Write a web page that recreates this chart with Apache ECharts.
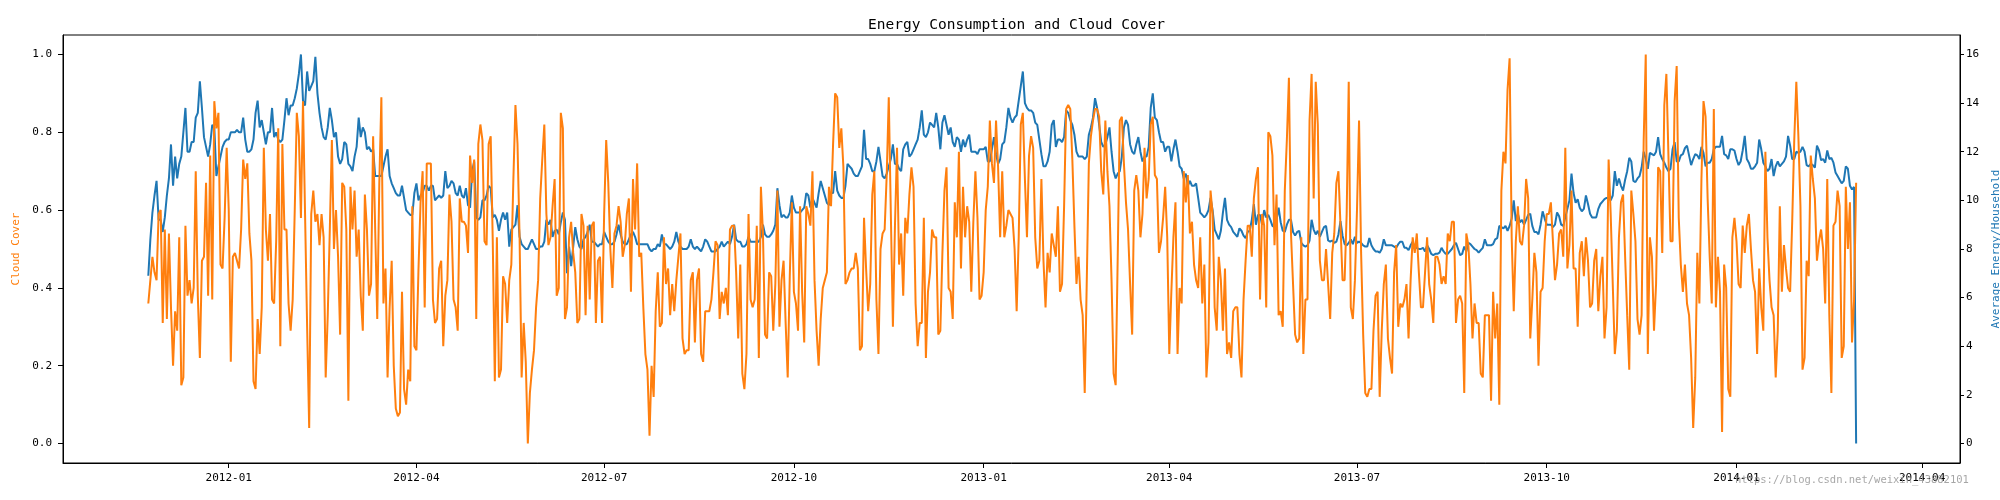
<!DOCTYPE html>
<html>
<head>
<meta charset="utf-8">
<script src="https://cdn.jsdelivr.net/npm/echarts@6/dist/echarts.min.js"></script>
<style>html,body{margin:0;padding:0;background:#fff;overflow:hidden}#c{width:2000px;height:500px}</style>
</head>
<body>
<div id="c"></div>
<script>
// ---------------- data ----------------
const startDate = '2011-11-23';            // first day of the daily series
const titleText = 'Energy Consumption and Cloud Cover';
const leftLabel = 'Cloud Cover';
const rightLabel = 'Average Energy/Household';
const watermark = 'https://blog.csdn.net/weixin_43882101';
const xTickLabels = ['2012-01','2012-04','2012-07','2012-10','2013-01','2013-04','2013-07','2013-10','2014-01','2014-04'];
const leftTicks = [0, 0.2, 0.4, 0.6, 0.8, 1.0];
const rightTicks = [0, 2, 4, 6, 8, 10, 12, 14, 16];

// Average energy per household (daily)
const energy = [
6.9,8.4,9.5,10.2,10.8,9.2,9.2,8.7,9.3,10.2,
10.9,12.3,10.6,11.8,10.9,11.5,11.8,12.8,13.8,12.0,
12.0,12.4,12.4,13.4,13.6,14.9,13.8,12.6,12.2,11.8,
12.3,13.1,13.0,11.0,11.4,11.8,12.2,12.4,12.5,12.5,
12.8,12.8,12.8,12.9,12.8,12.8,13.4,12.5,12.0,12.0,
12.1,12.5,13.6,14.1,13.0,13.3,12.8,12.3,12.8,12.8,
13.8,12.6,12.8,12.5,12.4,12.5,13.3,14.2,13.5,13.9,
13.9,14.2,14.6,15.2,16.0,14.1,13.9,15.3,14.5,14.7,
14.9,15.9,14.4,13.6,13.0,12.6,12.5,13.0,13.8,13.3,
12.6,12.8,11.8,11.5,11.7,12.4,12.3,11.5,11.4,11.2,
11.8,12.2,13.4,12.6,13.0,12.8,12.1,12.2,12.0,12.1,
11.0,11.0,11.0,11.0,11.4,11.8,12.1,11.0,10.7,10.5,
10.3,10.2,10.2,10.6,10.1,9.6,9.5,9.4,9.4,10.3,
10.7,10.0,10.2,10.3,10.6,10.6,10.4,10.6,10.6,10.0,
10.1,10.2,10.1,10.2,11.2,10.5,10.6,10.8,10.7,10.3,
10.2,10.6,10.2,10.1,10.5,9.8,9.7,11.2,11.6,9.3,
9.2,9.3,10.0,10.0,10.2,10.6,10.5,9.3,9.4,9.2,
8.75,9.2,9.5,9.2,9.5,8.1,8.8,8.9,9.0,9.8,
8.5,8.2,8.1,8.0,8.0,8.2,8.4,8.2,8.0,8.0,
8.1,8.1,8.3,9.2,9.0,9.2,8.5,8.75,8.8,8.6,
9.1,9.5,9.2,7.0,8.1,7.3,8.1,8.9,8.4,8.1,
8.0,8.4,8.5,8.7,9.0,8.3,8.3,8.2,8.1,8.2,
8.2,8.7,8.5,8.3,8.2,8.2,8.3,8.6,9.0,8.6,
8.3,8.2,8.2,8.4,8.6,8.7,8.5,8.2,8.2,8.2,
8.2,8.2,8.2,8.0,7.9,8.0,8.0,8.2,8.1,8.6,
8.2,8.2,8.1,8.0,8.1,8.3,8.7,8.3,8.1,8.0,
8.0,8.0,8.1,8.4,8.1,8.0,8.1,8.0,7.9,8.1,
8.4,8.3,8.1,7.9,7.9,7.9,8.0,8.1,8.3,8.1,
8.2,8.3,8.2,8.5,9.0,8.4,8.3,8.3,8.1,8.1,
8.2,8.5,8.3,8.3,8.3,8.3,8.3,8.5,9.0,8.6,
8.5,8.5,8.6,8.75,9.0,10.5,9.8,9.3,9.4,9.3,
9.3,9.5,10.2,9.7,9.5,9.5,9.5,9.6,9.7,10.3,
10.2,9.7,10.1,9.9,9.7,10.3,10.8,10.5,10.2,9.9,
9.8,10.3,10.3,11.2,10.4,10.2,10.1,10.1,10.6,11.5,
11.4,11.3,11.1,11.0,11.0,11.2,11.4,12.9,11.7,11.7,
11.5,11.2,11.2,11.6,12.2,11.6,11.0,10.9,11.1,11.4,
11.7,12.3,11.5,11.5,11.3,11.2,12.1,12.3,12.4,11.8,
11.9,12.1,12.3,12.5,13.0,13.7,12.7,12.6,12.8,13.2,
13.1,13.0,13.6,13.0,12.1,13.2,13.5,13.1,12.7,13.0,
12.4,12.2,12.6,12.5,12.0,12.5,12.2,12.5,12.7,12.0,
12.0,12.0,11.9,12.1,12.1,12.1,12.2,11.6,11.6,12.1,
12.6,11.9,11.5,11.7,12.3,12.4,13.0,13.8,13.4,13.2,
13.4,13.5,14.1,14.7,15.3,14.0,13.8,13.7,13.7,13.6,
13.2,13.1,12.5,11.9,11.4,11.4,11.6,12.0,13.1,13.3,
12.2,12.5,12.5,12.4,12.6,13.7,13.6,13.3,13.1,12.7,
12.0,11.8,11.8,11.8,11.7,11.8,12.7,13.0,13.4,14.2,
13.8,13.1,12.4,12.2,12.3,12.6,13.0,12.0,11.2,10.9,
11.1,11.2,11.8,13.0,13.3,13.1,12.3,12.0,11.9,12.3,
12.6,12.0,11.6,11.8,11.8,12.2,13.8,14.4,13.4,13.3,
12.8,12.4,12.4,12.0,12.2,12.2,11.6,12.1,12.5,12.0,
11.4,11.3,10.9,11.1,10.6,10.8,10.6,10.6,10.7,10.1,
9.5,9.4,9.3,9.4,9.6,10.1,9.6,8.8,8.6,8.4,
8.75,9.5,10.1,9.2,9.0,8.9,8.7,8.6,8.5,8.85,
8.75,8.55,8.45,8.7,8.75,9.2,9.85,9.0,9.4,9.4,
9.0,9.6,9.3,9.4,9.2,8.95,8.9,9.2,9.7,9.1,
8.75,8.7,9.0,9.2,9.2,8.7,8.55,8.7,8.75,8.25,
8.15,8.1,8.15,8.35,9.2,8.8,8.6,8.75,8.5,8.7,
8.9,8.95,8.35,8.3,8.35,8.25,8.3,8.6,9.15,8.55,
8.2,8.15,8.25,8.4,8.2,8.5,8.25,8.3,8.25,8.15,
8.1,8.1,8.45,8.15,8.0,7.9,7.9,7.85,8.0,8.4,
8.15,8.15,8.15,8.15,8.1,8.05,8.2,8.3,8.3,8.05,
8.05,7.95,8.15,8.3,8.05,8.05,8.0,8.0,8.05,7.9,
8.15,8.0,7.8,7.75,7.8,7.8,7.85,8.05,7.9,7.8,
7.8,7.9,8.0,8.15,8.25,8.0,7.75,7.8,8.1,7.9,
8.25,8.2,8.1,8.0,7.95,7.85,7.95,8.05,8.4,8.15,
8.15,8.15,8.2,8.4,8.45,8.95,8.9,8.85,8.95,8.75,
8.95,9.25,10.0,9.15,9.45,9.1,9.2,9.0,9.2,9.4,
9.45,8.95,8.7,8.7,8.6,9.0,9.55,9.25,9.0,9.0,
9.0,8.9,9.0,9.5,9.35,9.0,8.95,9.3,9.65,10.0,
11.1,10.3,9.9,10.05,9.7,9.55,9.65,10.2,9.85,9.45,
9.3,9.3,9.3,9.65,9.85,9.95,10.05,10.1,10.1,10.0,
10.2,11.2,10.6,10.9,10.6,10.4,10.85,11.2,11.75,11.6,
10.8,10.75,10.9,11.0,11.35,12.0,11.7,11.3,11.95,11.9,
11.85,12.0,12.6,11.9,11.7,11.55,11.35,11.2,11.3,12.1,
12.4,11.6,11.6,11.85,11.9,12.15,12.25,11.85,11.45,11.7,
11.9,11.85,11.7,12.2,11.95,11.4,11.55,11.55,11.7,12.1,
12.2,12.2,12.2,12.65,11.9,11.85,11.7,12.1,12.1,12.05,
11.7,11.45,11.6,12.05,12.65,11.7,11.55,11.3,11.3,11.4,
11.55,12.5,12.1,11.55,11.4,11.2,11.3,11.7,11.0,11.4,
11.6,11.4,11.5,11.6,11.8,12.65,12.25,11.7,11.7,12.0,
11.95,12.0,12.2,12.0,11.45,11.4,11.5,11.45,11.35,12.25,
12.05,11.65,11.7,11.55,12.05,11.7,11.75,11.55,11.15,11.0,
10.85,10.7,10.8,11.4,11.3,10.6,10.45,10.55,0
];

// Cloud cover (daily)
const cloud = [
0.36,0.42,0.48,0.44,0.42,0.59,0.60,0.31,0.55,0.32,
0.54,0.35,0.20,0.34,0.29,0.53,0.15,0.17,0.56,0.38,
0.42,0.36,0.40,0.70,0.38,0.22,0.47,0.48,0.67,0.38,
0.74,0.37,0.88,0.81,0.85,0.46,0.45,0.58,0.76,0.60,
0.21,0.48,0.49,0.47,0.45,0.55,0.73,0.68,0.72,0.54,
0.47,0.16,0.14,0.32,0.23,0.35,0.76,0.55,0.47,0.59,
0.37,0.36,0.52,0.81,0.25,0.77,0.55,0.55,0.36,0.29,
0.37,0.60,0.85,0.79,0.58,0.88,0.59,0.30,0.04,0.59,
0.65,0.57,0.59,0.51,0.59,0.53,0.17,0.33,0.55,0.78,
0.50,0.60,0.48,0.28,0.67,0.66,0.55,0.11,0.66,0.55,
0.65,0.48,0.55,0.38,0.29,0.64,0.55,0.38,0.41,0.79,
0.55,0.32,0.67,0.89,0.36,0.45,0.17,0.35,0.47,0.20,
0.09,0.07,0.08,0.39,0.14,0.10,0.19,0.16,0.61,0.25,
0.24,0.45,0.62,0.70,0.35,0.72,0.72,0.72,0.37,0.31,
0.32,0.45,0.47,0.25,0.38,0.42,0.64,0.57,0.37,0.35,
0.29,0.63,0.57,0.57,0.56,0.49,0.74,0.67,0.73,0.32,
0.77,0.82,0.78,0.52,0.51,0.77,0.79,0.52,0.16,0.53,
0.17,0.19,0.43,0.41,0.31,0.42,0.46,0.68,0.87,0.77,
0.53,0.17,0.31,0.21,0.0,0.13,0.19,0.24,0.35,0.42,
0.63,0.73,0.82,0.59,0.51,0.53,0.61,0.68,0.38,0.40,
0.85,0.81,0.32,0.35,0.53,0.57,0.49,0.44,0.31,0.32,
0.59,0.56,0.33,0.56,0.37,0.56,0.57,0.31,0.47,0.48,
0.31,0.59,0.78,0.67,0.50,0.40,0.54,0.56,0.61,0.57,
0.48,0.51,0.59,0.63,0.39,0.68,0.55,0.72,0.48,0.49,
0.35,0.23,0.19,0.02,0.20,0.12,0.34,0.44,0.30,0.31,
0.53,0.41,0.45,0.33,0.41,0.34,0.42,0.48,0.54,0.27,
0.23,0.24,0.24,0.42,0.44,0.26,0.42,0.45,0.23,0.21,
0.34,0.34,0.34,0.37,0.44,0.52,0.51,0.32,0.39,0.36,
0.40,0.33,0.55,0.56,0.56,0.44,0.27,0.46,0.18,0.14,
0.23,0.59,0.37,0.35,0.37,0.56,0.22,0.66,0.54,0.28,
0.27,0.44,0.43,0.29,0.41,0.65,0.30,0.42,0.47,0.31,
0.17,0.43,0.62,0.39,0.36,0.29,0.61,0.39,0.26,0.61,
0.59,0.56,0.70,0.42,0.29,0.20,0.32,0.40,0.42,0.44,
0.66,0.61,0.77,0.90,0.89,0.76,0.81,0.71,0.41,0.42,
0.44,0.45,0.45,0.49,0.45,0.24,0.25,0.58,0.45,0.34,
0.41,0.64,0.70,0.37,0.23,0.50,0.54,0.55,0.69,0.89,
0.59,0.30,0.56,0.76,0.46,0.54,0.38,0.58,0.54,0.64,
0.71,0.66,0.36,0.25,0.31,0.31,0.58,0.22,0.39,0.44,
0.55,0.53,0.53,0.28,0.29,0.49,0.65,0.71,0.40,0.39,
0.32,0.62,0.53,0.75,0.45,0.66,0.53,0.61,0.57,0.39,
0.57,0.70,0.58,0.37,0.38,0.44,0.60,0.66,0.83,0.72,
0.67,0.83,0.71,0.53,0.70,0.53,0.56,0.60,0.59,0.58,
0.50,0.34,0.53,0.82,0.85,0.68,0.53,0.74,0.79,0.76,
0.53,0.45,0.47,0.68,0.47,0.35,0.49,0.44,0.54,0.51,
0.48,0.61,0.39,0.41,0.61,0.86,0.87,0.86,0.73,0.56,
0.41,0.48,0.37,0.33,0.13,0.42,0.72,0.79,0.83,0.86,
0.86,0.84,0.70,0.64,0.83,0.70,0.61,0.42,0.18,0.15,
0.48,0.83,0.84,0.72,0.62,0.55,0.41,0.28,0.65,0.69,
0.65,0.53,0.59,0.76,0.63,0.68,0.82,0.84,0.69,0.68,
0.49,0.52,0.58,0.66,0.53,0.23,0.39,0.53,0.62,0.23,
0.40,0.36,0.70,0.62,0.69,0.54,0.57,0.46,0.42,0.40,
0.53,0.36,0.46,0.17,0.26,0.65,0.59,0.35,0.29,0.48,
0.42,0.29,0.45,0.23,0.26,0.22,0.34,0.35,0.35,0.23,
0.17,0.37,0.47,0.56,0.56,0.48,0.63,0.68,0.71,0.37,
0.59,0.56,0.35,0.80,0.79,0.74,0.51,0.64,0.33,0.34,
0.30,0.65,0.78,0.94,0.54,0.41,0.28,0.26,0.27,0.53,
0.23,0.37,0.37,0.83,0.95,0.63,0.93,0.82,0.47,0.42,
0.42,0.50,0.41,0.32,0.49,0.54,0.67,0.70,0.56,0.42,
0.42,0.59,0.93,0.35,0.32,0.42,0.60,0.83,0.49,0.28,
0.13,0.12,0.14,0.14,0.29,0.38,0.39,0.12,0.29,0.41,
0.46,0.27,0.22,0.18,0.44,0.51,0.30,0.36,0.35,0.37,
0.41,0.27,0.42,0.53,0.49,0.54,0.44,0.35,0.35,0.44,
0.53,0.41,0.37,0.31,0.48,0.48,0.46,0.41,0.43,0.41,
0.54,0.52,0.57,0.57,0.31,0.37,0.38,0.36,0.13,0.54,
0.51,0.41,0.27,0.36,0.31,0.31,0.18,0.17,0.33,0.33,
0.33,0.11,0.39,0.27,0.36,0.10,0.65,0.75,0.72,0.91,
0.99,0.53,0.34,0.52,0.61,0.52,0.51,0.56,0.68,0.63,
0.27,0.37,0.49,0.44,0.20,0.39,0.40,0.52,0.59,0.59,
0.62,0.52,0.42,0.46,0.54,0.55,0.48,0.76,0.45,0.51,
0.65,0.45,0.45,0.30,0.49,0.52,0.43,0.53,0.47,0.35,
0.36,0.47,0.50,0.34,0.43,0.48,0.27,0.35,0.73,0.59,
0.41,0.23,0.29,0.53,0.62,0.64,0.48,0.33,0.19,0.65,
0.59,0.52,0.32,0.28,0.33,0.78,1.0,0.23,0.53,0.48,
0.29,0.41,0.71,0.70,0.49,0.87,0.95,0.74,0.52,0.52,
0.88,0.97,0.58,0.46,0.39,0.46,0.36,0.33,0.22,0.04,
0.17,0.49,0.36,0.68,0.88,0.84,0.63,0.48,0.36,0.86,
0.35,0.48,0.39,0.03,0.46,0.40,0.14,0.12,0.53,0.58,
0.52,0.41,0.40,0.56,0.49,0.56,0.59,0.50,0.42,0.39,
0.23,0.45,0.35,0.29,0.75,0.53,0.42,0.35,0.33,0.17,
0.29,0.61,0.39,0.51,0.45,0.40,0.39,0.57,0.78,0.93,
0.79,0.61,0.19,0.22,0.47,0.43,0.74,0.68,0.63,0.47,
0.52,0.55,0.50,0.36,0.68,0.33,0.13,0.56,0.57,0.65,
0.61,0.22,0.25,0.66,0.50,0.62,0.26,0.37,0.67
];

// ---------------- chart ----------------
const DAY = 86400000;
const t0 = Date.parse(startDate + 'T00:00:00Z');
const FONT = "'DejaVu Sans Mono', monospace";

const energyData = energy.map((v, i) => [t0 + i * DAY, v]);
const cloudData = cloud.map((v, i) => [t0 + i * DAY, v]);

const GRID_L = 63, GRID_R = 1960, GRID_T = 35, GRID_B = 463;
const PX_PER_DAY = 2.0626;
const FIRST_X = 148.3;
const xMin = t0 - (FIRST_X - GRID_L) / PX_PER_DAY * DAY;
const xMax = xMin + (GRID_R - GRID_L) / PX_PER_DAY * DAY;

const xTicks = xTickLabels.map(s => Date.parse(s + '-01T00:00:00Z'));
const eMax = 16.0;

const chart = echarts.init(document.getElementById('c'), null, {renderer: 'canvas'});
chart.setOption({
  animation: false,
  backgroundColor: '#fff',
  title: {
    text: titleText,
    left: (GRID_L + GRID_R) / 2,
    textAlign: 'center',
    top: 13,
    textStyle: {fontFamily: FONT, fontSize: 14.5, fontWeight: 'normal', color: '#000'}
  },
  grid: {left: GRID_L, right: 2000 - GRID_R, top: GRID_T, bottom: 500 - GRID_B,
         containLabel: false, outerBoundsMode: 'none',
         show: true, borderColor: '#000', borderWidth: 1, backgroundColor: 'transparent'},
  xAxis: {
    type: 'value', min: xMin, max: xMax, scale: true,
    axisLine: {show: true, onZero: false, lineStyle: {color: '#000', width: 1}},
    axisTick: {show: true, length: 5, lineStyle: {color: '#000'}, customValues: xTicks},
    axisLabel: {show: true, customValues: xTicks, color: '#000', fontFamily: FONT, fontSize: 11, margin: 10,
      formatter: v => { const d = new Date(v); return d.getUTCFullYear() + '-' + String(d.getUTCMonth() + 1).padStart(2, '0'); }},
    splitLine: {show: false}
  },
  yAxis: [
    {
      type: 'value', position: 'left', min: -0.05, max: 1.05,
      axisLine: {show: true, onZero: false, lineStyle: {color: '#000'}},
      axisTick: {show: true, length: 5, lineStyle: {color: '#000'}, customValues: leftTicks},
      axisLabel: {customValues: leftTicks, color: '#000', fontFamily: FONT, fontSize: 11, margin: 11,
        formatter: v => Number(v).toFixed(1)},
      splitLine: {show: false},
      name: leftLabel, nameLocation: 'middle', nameGap: 33, nameRotate: 90,
      nameTextStyle: {color: '#ff7f0e', fontFamily: FONT, fontSize: 11}
    },
    {
      type: 'value', position: 'right', min: -0.05 * eMax, max: 1.05 * eMax,
      axisLine: {show: true, onZero: false, lineStyle: {color: '#000'}},
      axisTick: {show: true, length: 4, lineStyle: {color: '#000'}, customValues: rightTicks},
      axisLabel: {customValues: rightTicks, color: '#000', fontFamily: FONT, fontSize: 11, margin: 6,
        formatter: v => String(Math.round(v))},
      splitLine: {show: false},
      name: rightLabel, nameLocation: 'middle', nameGap: 20, nameRotate: 90,
      nameTextStyle: {color: '#1f77b4', fontFamily: FONT, fontSize: 11}
    }
  ],
  series: [
    {name: 'energy', type: 'line', yAxisIndex: 1, data: energyData, showSymbol: false, symbol: 'none',
     lineStyle: {color: '#1f77b4', width: 2}, itemStyle: {color: '#1f77b4'}, z: 2},
    {name: 'cloud', type: 'line', yAxisIndex: 0, data: cloudData, showSymbol: false, symbol: 'none',
     lineStyle: {color: '#ff7f0e', width: 2}, itemStyle: {color: '#ff7f0e'}, z: 3}
  ],
  graphic: [{
    type: 'text', left: 1735, top: 475, z: 100,
    style: {text: watermark, fill: 'rgba(150,150,150,0.85)', font: '10.5px ' + FONT}
  }]
});
</script>
</body>
</html>
